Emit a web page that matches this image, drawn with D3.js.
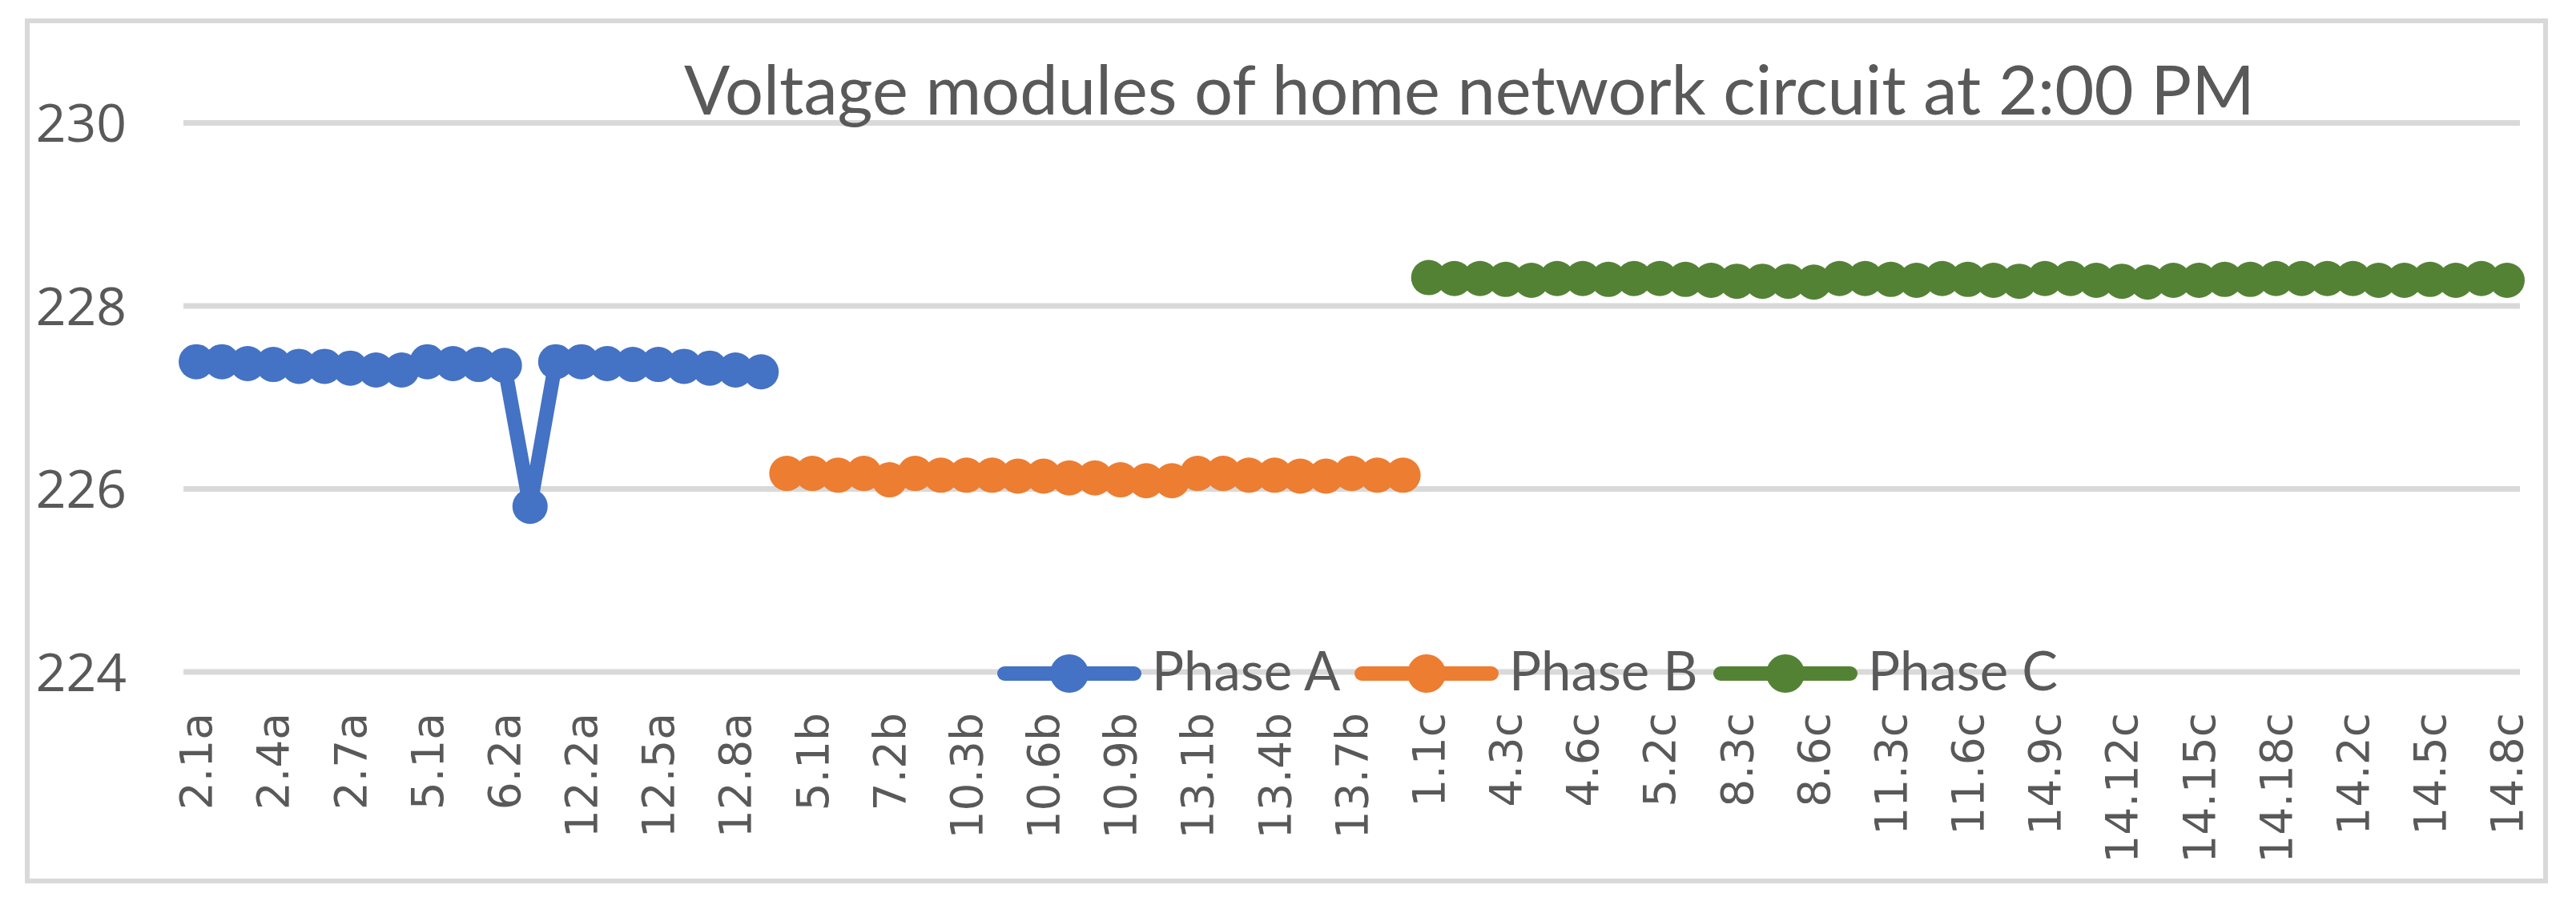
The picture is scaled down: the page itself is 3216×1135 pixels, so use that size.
<!DOCTYPE html>
<html>
<head>
<meta charset="utf-8">
<script src="https://cdn.jsdelivr.net/npm/d3@7/dist/d3.min.js"></script>
<style>
  body { margin: 0; background: #fff; }
  svg { display: block; }
</style>
</head>
<body>
<svg width="3216" height="1135"></svg>
<script>
// categories per phase (only every third one is labelled on the axis)
var catsA = ["2.1a","2.2a","2.3a","2.4a","2.5a","2.6a","2.7a","2.8a","2.9a","5.1a","5.2a","6.1a",
             "6.2a","6.3a","12.1a","12.2a","12.3a","12.4a","12.5a","12.6a","12.7a","12.8a","12.9a"];
var catsB = ["4.9b","5.1b","5.2b","7.1b","7.2b","10.1b","10.2b","10.3b","10.4b","10.5b","10.6b","10.7b",
             "10.8b","10.9b","10.10b","10.11b","13.1b","13.2b","13.3b","13.4b","13.5b","13.6b","13.7b","13.8b","13.9b"];
var catsC = ["1.1c","4.1c","4.2c","4.3c","4.4c","4.5c","4.6c","4.7c","5.1c","5.2c","8.1c","8.2c",
             "8.3c","8.4c","8.5c","8.6c","11.1c","11.2c","11.3c","11.4c","11.5c","11.6c","11.7c","11.8c",
             "14.9c","14.10c","14.11c","14.12c","14.13c","14.14c","14.15c","14.16c","14.17c","14.18c","14.19c","14.1c",
             "14.2c","14.3c","14.4c","14.5c","14.6c","14.7c","14.8c"];

// voltage values
var phaseA = [227.39, 227.39, 227.37, 227.36, 227.34, 227.34, 227.32, 227.30, 227.30, 227.39, 227.37, 227.36,
              227.35, 225.81, 227.39, 227.39, 227.37, 227.36, 227.36, 227.34, 227.32, 227.30, 227.28];
var phaseB = [226.17, 226.17, 226.15, 226.17, 226.10, 226.17, 226.15, 226.15, 226.15, 226.14, 226.14, 226.12,
              226.12, 226.10, 226.09, 226.09, 226.17, 226.17, 226.15, 226.15, 226.14, 226.14, 226.17, 226.15, 226.15];
var phaseC = [228.31, 228.30, 228.30, 228.29, 228.28, 228.30, 228.30, 228.29, 228.30, 228.30, 228.29, 228.28,
              228.27, 228.27, 228.27, 228.26, 228.30, 228.30, 228.29, 228.28, 228.30, 228.29, 228.28, 228.27,
              228.30, 228.30, 228.28, 228.27, 228.26, 228.28, 228.28, 228.29, 228.29, 228.30, 228.30, 228.30,
              228.30, 228.28, 228.28, 228.29, 228.28, 228.30, 228.28];

var yTicks = [224, 226, 228, 230];
var seriesNames = ["Phase A", "Phase B", "Phase C"];
var colors = ["#4472C4", "#ED7D31", "#548235"];
var title = "Voltage modules of home network circuit at 2:00 PM";

var svg = d3.select("svg"),
    plotLeft = 229, plotRight = 3146, plotTop = 153.5, plotBottom = 839;

var categories = catsA.concat(catsB, catsC);

var series = [
  {name: seriesNames[0], color: colors[0], points: catsA.map(function(c, i) { return {cat: c, v: phaseA[i]}; })},
  {name: seriesNames[1], color: colors[1], points: catsB.map(function(c, i) { return {cat: c, v: phaseB[i]}; })},
  {name: seriesNames[2], color: colors[2], points: catsC.map(function(c, i) { return {cat: c, v: phaseC[i]}; })}
];

var x = d3.scaleBand().domain(categories).range([plotLeft, plotRight]),
    y = d3.scaleLinear().domain([224, 230]).range([plotBottom, plotTop]);

function cx(c) { return x(c) + x.bandwidth() / 2; }

// white background + chart frame
svg.append("rect").attr("width", 3216).attr("height", 1135).attr("fill", "#fff");
svg.append("rect")
    .attr("x", 34).attr("y", 26).attr("width", 3144).attr("height", 1074)
    .attr("fill", "none").attr("stroke", "#d9d9d9").attr("stroke-width", 6);

// gridlines
svg.append("g").selectAll("line")
  .data(yTicks)
  .enter().append("line")
    .attr("x1", plotLeft).attr("x2", plotRight)
    .attr("y1", function(d) { return y(d); })
    .attr("y2", function(d) { return y(d); })
    .attr("stroke", "#d9d9d9").attr("stroke-width", 7);

// y axis labels
var yAxis = svg.append("g")
    .attr("transform", "translate(158,0)")
    .call(d3.axisLeft(y).tickValues(yTicks).tickFormat(d3.format("d")).tickSize(0).tickPadding(0));
yAxis.select(".domain").remove();
yAxis.selectAll("text")
    .attr("font-family", "'Open Sans', sans-serif")
    .attr("font-size", 66)
    .attr("fill", "#595959")
    .attr("dy", "0.35em");

// x axis labels, every third category
var xAxis = svg.append("g")
    .attr("transform", "translate(0,890)")
    .call(d3.axisBottom(x).tickValues(categories.filter(function(d, i) { return i % 3 === 0; })).tickSize(0).tickPadding(0));
xAxis.select(".domain").remove();
xAxis.selectAll("text")
    .attr("font-family", "'DejaVu Sans', sans-serif")
    .attr("font-size", 55)
    .attr("fill", "#595959")
    .attr("text-anchor", "end")
    .attr("transform", "rotate(-90)")
    .attr("x", 0).attr("y", 0)
    .attr("dy", "0.35em");

// lines and markers
var line = d3.line()
    .x(function(d) { return cx(d.cat); })
    .y(function(d) { return y(d.v); });

series.forEach(function(s) {
  svg.append("path")
      .datum(s.points)
      .attr("d", line)
      .attr("fill", "none")
      .attr("stroke", s.color)
      .attr("stroke-width", 18)
      .attr("stroke-linejoin", "round");
  svg.append("g").selectAll("circle")
    .data(s.points)
    .enter().append("circle")
      .attr("cx", function(d) { return cx(d.cat); })
      .attr("cy", function(d) { return y(d.v); })
      .attr("r", 22)
      .attr("fill", s.color);
});

// title, scaled to the width it has in the picture
var t = svg.append("text")
    .attr("x", 854).attr("y", 143)
    .attr("font-family", "Lato, sans-serif")
    .attr("font-size", 100)
    .attr("fill", "#595959")
    .text(title);
t.attr("font-size", 100 * 1961 / t.node().getComputedTextLength());

// legend on the bottom gridline
var legendX = [1245, 1691, 2139];
var legend = svg.append("g").selectAll("g")
  .data(series)
  .enter().append("g")
    .attr("transform", function(d, i) { return "translate(" + legendX[i] + ",841)"; });
legend.append("line")
    .attr("x1", 9).attr("x2", 171)
    .attr("stroke", function(d) { return d.color; })
    .attr("stroke-width", 18).attr("stroke-linecap", "round");
legend.append("circle")
    .attr("cx", 90).attr("r", 24)
    .attr("fill", function(d) { return d.color; });
legend.append("text")
    .attr("x", 193).attr("y", 21)
    .attr("font-family", "Lato, sans-serif")
    .attr("font-size", 67)
    .attr("fill", "#595959")
    .text(function(d) { return d.name; });
</script>
</body>
</html>
